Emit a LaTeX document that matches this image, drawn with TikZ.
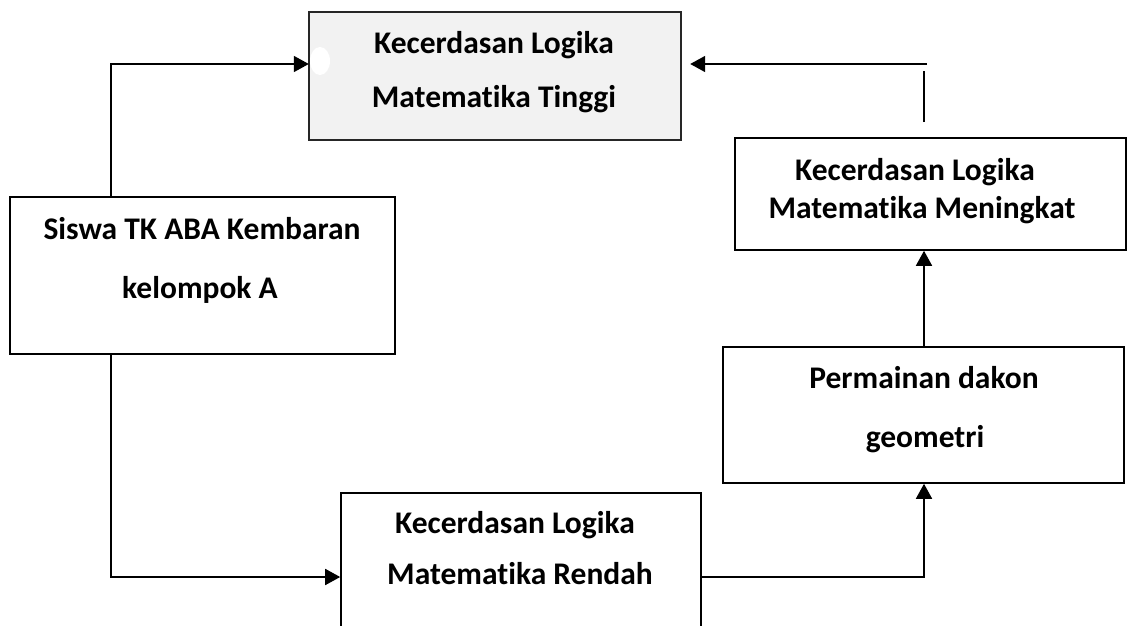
\documentclass[tikz,border=0pt]{standalone}
\usepackage{fontspec}
\setmainfont{Carlito}[Ligatures={NoCommon}]
\usetikzlibrary{arrows.meta}
\definecolor{boxgray}{HTML}{F2F2F2}
\tikzset{
  box/.style={draw=black, line width=1.6pt, fill=white},
  graybox/.style={box, fill=boxgray, draw=black!85, line width=1.4pt},
  lbl/.style={anchor=base, inner sep=0pt, font=\fontsize{31.5}{36}\selectfont\bfseries},
  conn/.style={line width=1.7pt, black},
  arr/.style={conn, -{Triangle[length=15pt,width=16pt]}}
}
\begin{document}
\begin{tikzpicture}[x=1pt,y=-1pt]
\useasboundingbox (0,0) rectangle (1129,626);
\clip (0,0) rectangle (1129,626);
% boxes
\draw[graybox] (309,12) rectangle (681,140);
\node[inner sep=0pt, minimum width=372pt, minimum height=128pt] (Tb) at (495,76) {};
\fill[white] (320,61) ellipse (10 and 14);
\node[box, minimum width=385pt, minimum height=157pt, inner sep=0pt] (L) at (202.5,275.5) {};
\node[box, minimum width=360pt, minimum height=160pt, inner sep=0pt] (B) at (521,573) {};
\node[box, minimum width=391pt, minimum height=112pt, inner sep=0pt] (R1) at (930.5,194) {};
\node[box, minimum width=401pt, minimum height=136pt, inner sep=0pt] (R2) at (923.5,415) {};
% texts
\node[lbl] (t1) at (494,53) {Kecerdasan Logika};
\node[lbl] (t2) at (494,107) {Matematika Tinggi};
\node[lbl] (l1) at (202,239) {Siswa TK ABA Kembaran};
\node[lbl] (l2) at (200,298) {kelompok A};
\node[lbl] (b1) at (515,533) {Kecerdasan Logika};
\node[lbl] (b2) at (520,584) {Matematika Rendah};
\node[lbl] (r1) at (915,180) {Kecerdasan Logika};
\node[lbl] (r2) at (922,218) {Matematika Meningkat};
\node[lbl] (p1) at (924,388) {Permainan dakon};
\node[lbl] (p2) at (925,447) {geometri};
% connectors
\coordinate (a1) at (111,64);
\draw[arr] (L.north -| a1) -- (a1) -- (Tb.west |- a1);
\coordinate (a2) at (111,577);
\draw[arr] (L.south -| a2) -- (a2) -- (B.west |- a2);
\coordinate (a3) at (924,577);
\draw[arr] (B.east |- a3) -- (a3) -- (R2.south -| a3);
\draw[arr] (R2.north -| a3) -- (R1.south -| a3);
\coordinate (c1) at (924,122);
\coordinate (c2) at (924,71);
\coordinate (c3) at (927,64);
\draw[conn] (c1) -- (c2);
\draw[arr, shorten >=9pt] (c3) -- (Tb.east |- c3);
\end{tikzpicture}
\end{document}
